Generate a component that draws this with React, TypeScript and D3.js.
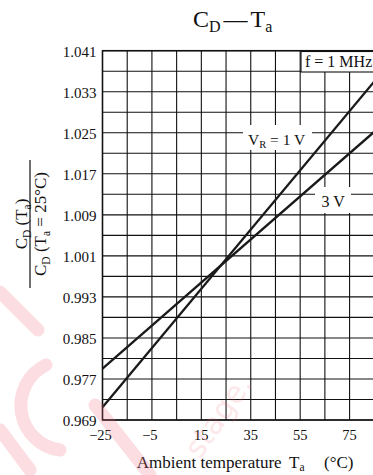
import React from "react";
import * as d3 from "d3";

// ---- data ----
const xTicks = [-25, -5, 15, 35, 55, 75];
const xGrid = [-25, -15, -5, 5, 15, 25, 35, 45, 55, 65, 75, 85];
const yTicks = [0.969, 0.977, 0.985, 0.993, 1.001, 1.009, 1.017, 1.025, 1.033, 1.041];
const yGrid = d3.range(0, 19).map((i) => +(0.969 + i * 0.004).toFixed(3));
const temps = [-25, 85];
const vr1 = [0.9715, 1.035];
const vr3 = [0.979, 1.0252];

const W = 373;
const H = 475;
const FONT = "'Liberation Serif', 'Times New Roman', serif";

export default function App() {
  const x = d3.scaleLinear().domain([-25, 85]).range([102.5, 374.3]);
  const y = d3.scaleLinear().domain([0.969, 1.041]).range([420, 50.7]);
  const line = d3
    .line<number>()
    .x((_, i) => x(temps[i]))
    .y((d) => y(d));

  const x0 = x(-25);
  const x1 = x(85);
  const yTop = y(1.041);
  const yBot = y(0.969);

  return (
    <svg
      width={W}
      height={H}
      style={{ position: "absolute", left: 0, top: 0, background: "#fff" }}
      fontFamily={FONT}
    >
      <rect x={0} y={0} width={W} height={H} fill="#fff" />
      {/* title */}
      <text x={193} y={27} fontSize={24} fill="#111">
        C
        <tspan fontSize={16} dy={5}>D</tspan>
        <tspan fontSize={24} dy={-5} dx={3}>—</tspan>
        <tspan fontSize={24} dx={3}>T</tspan>
        <tspan fontSize={16} dy={5}>a</tspan>
      </text>

      {/* grid */}
      <g stroke="#111" strokeWidth={1.1}>
        {xGrid.map((t) => (
          <line key={"gx" + t} x1={x(t)} x2={x(t)} y1={yTop} y2={yBot} />
        ))}
        {yGrid.map((v) => (
          <line key={"gy" + v} x1={x0} x2={x1} y1={y(v)} y2={y(v)} />
        ))}
      </g>
      <rect x={x0} y={yTop} width={x1 - x0} height={yBot - yTop} fill="none" stroke="#111" strokeWidth={1.5} />

      {/* label backgrounds */}
      <rect x={301} y={yTop + 0.8} width={80} height={20.5} fill="#fff" stroke="#111" strokeWidth={1.1} />
      <rect x={243} y={125} width={69} height={25} fill="#fff" />
      <rect x={315} y={187} width={36} height={26} fill="#fff" />

      {/* curves */}
      <path d={line(vr1) || ""} fill="none" stroke="#1a1a1a" strokeWidth={2.3} />
      <path d={line(vr3) || ""} fill="none" stroke="#1a1a1a" strokeWidth={2.3} />

      {/* labels */}
      <text x={305} y={66.7} fontSize={16} fill="#111">f = 1 MHz</text>
      <text x={248} y={145} fontSize={15.5} fill="#111">
        V<tspan fontSize={10.5} dy={3}>R</tspan>
        <tspan dy={-3}> = 1 V</tspan>
      </text>
      <text x={321.5} y={206.7} fontSize={16} fill="#111">3 V</text>

      {/* y tick labels */}
      {yTicks.map((v) => (
        <text key={"yt" + v} x={96.5} y={y(v) + 6.3} fontSize={15} textAnchor="end" fill="#111">
          {v.toFixed(3)}
        </text>
      ))}
      {/* x tick labels */}
      {xTicks.map((t) => (
        <text key={"xt" + t} x={x(t) - (t < 0 ? 2 : 0)} y={440} fontSize={14.5} textAnchor="middle" fill="#111">
          {t < 0 ? "\u2212" + Math.abs(t) : String(t)}
        </text>
      ))}

      {/* x axis title */}
      <text x={136.7} y={468} fontSize={17} fill="#111">
        Ambient temperature
        <tspan x={289}>T</tspan>
        <tspan fontSize={11.5} dy={3}>a</tspan>
        <tspan x={324} dy={-3}>(°C)</tspan>
      </text>

      {/* y axis title (fraction, rotated) */}
      <g transform="translate(30,224) rotate(-90)" fill="#111">
        <text x={0} y={-3.5} fontSize={17} textAnchor="middle">
          C<tspan fontSize={11.5} dy={4}>D</tspan>
          <tspan dy={-4}> (T</tspan>
          <tspan fontSize={11.5} dy={4}>a</tspan>
          <tspan dy={-4}>)</tspan>
        </text>
        <line x1={-64} x2={64} y1={0} y2={0} stroke="#111" strokeWidth={1.2} />
        <text x={0} y={16} fontSize={17} textAnchor="middle">
          C<tspan fontSize={11.5} dy={4}>D</tspan>
          <tspan dy={-4}> (T</tspan>
          <tspan fontSize={11.5} dy={4}>a</tspan>
          <tspan dy={-4}> = 25°C)</tspan>
        </text>
      </g>

      {/* faint watermark */}
      <g opacity={0.22} fill="none" stroke="#f06a7d" strokeWidth={13} strokeLinecap="round">
        <path d="M 0 292 L 38 330" />
        <path d="M 46 365 A 45 45 0 0 0 60 450" />
        <path d="M 95 405 L 150 475" />
        <path d="M 0 430 L 30 470" />
      </g>
      <text
        x={0}
        y={0}
        transform="translate(200,460) rotate(-55)"
        fontSize={30}
        fill="#f06a7d"
        opacity={0.15}
        fontFamily="'DejaVu Sans', sans-serif"
      >
        stage.
      </text>
    </svg>
  );
}
